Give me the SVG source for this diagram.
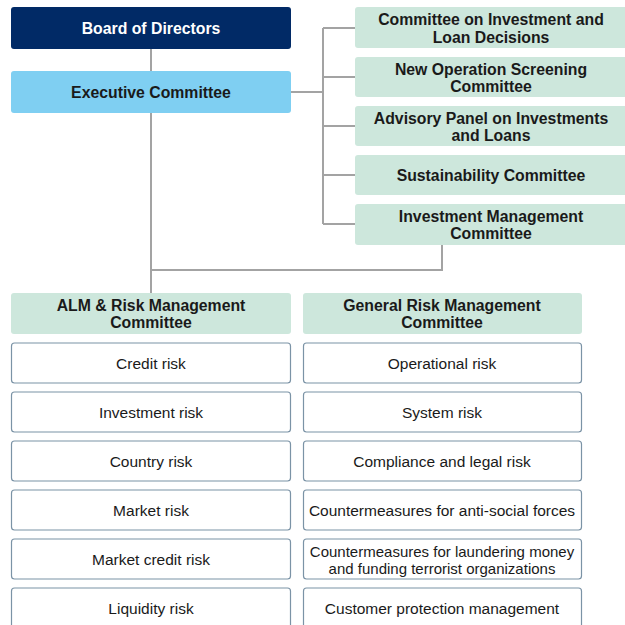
<svg xmlns="http://www.w3.org/2000/svg" width="625" height="625" viewBox="0 0 625 625">
<style>
text{font-family:"Liberation Sans",Arial,sans-serif;font-size:15.5px;text-anchor:middle;fill:#1a1a1a}
.b{font-weight:bold;font-size:15.8px}
.s{font-size:15px}
.w{fill:#ffffff}
.g{fill:#cde7dc}
.r{fill:#ffffff;stroke:#7b93a6;stroke-width:1.2}
.c{fill:none;stroke:#a3a3a3;stroke-width:2}
</style>
<rect width="625" height="625" fill="#ffffff"/>
<g id="connectors">
<path class="c" d="M151 49V71M151 113V293M151 270H442V245M291 92H323M323 28V224M323 28H355M323 77H355M323 126H355M323 175H355M323 224H355"/>
</g>
<g id="board"><rect x="11" y="7" width="280" height="42" rx="3" fill="#012a66"/><text class="b w" x="151" y="34">Board of Directors</text></g>
<g id="exec"><rect x="11" y="71" width="280" height="42" rx="3" fill="#7fcff2"/><text class="b" x="151" y="98">Executive Committee</text></g>
<g id="c1"><rect class="g" x="355" y="7" width="275" height="41" rx="3"/><text class="b" x="491" y="25">Committee on Investment and</text><text class="b" x="491" y="43">Loan Decisions</text></g>
<g id="c2"><rect class="g" x="355" y="57" width="275" height="40" rx="3"/><text class="b" x="491" y="75">New Operation Screening</text><text class="b" x="491" y="92">Committee</text></g>
<g id="c3"><rect class="g" x="355" y="106" width="275" height="40" rx="3"/><text class="b" x="491" y="124">Advisory Panel on Investments</text><text class="b" x="491" y="141">and Loans</text></g>
<g id="c4"><rect class="g" x="355" y="155" width="275" height="40" rx="3"/><text class="b" x="491" y="181">Sustainability Committee</text></g>
<g id="c5"><rect class="g" x="355" y="204" width="275" height="41" rx="3"/><text class="b" x="491" y="222">Investment Management</text><text class="b" x="491" y="239">Committee</text></g>
<g id="alm"><rect class="g" x="11" y="293" width="280" height="41" rx="3"/><text class="b" x="151" y="311">ALM &amp; Risk Management</text><text class="b" x="151" y="328">Committee</text></g>
<g id="grm"><rect class="g" x="303" y="293" width="279" height="41" rx="3"/><text class="b" x="442" y="311">General Risk Management</text><text class="b" x="442" y="328">Committee</text></g>
<g id="l1"><rect class="r" x="11.5" y="343" width="279" height="40" rx="3"/><text x="151" y="369">Credit risk</text></g>
<g id="l2"><rect class="r" x="11.5" y="392" width="279" height="40" rx="3"/><text x="151" y="418">Investment risk</text></g>
<g id="l3"><rect class="r" x="11.5" y="441" width="279" height="40" rx="3"/><text x="151" y="467">Country risk</text></g>
<g id="l4"><rect class="r" x="11.5" y="490" width="279" height="40" rx="3"/><text x="151" y="516">Market risk</text></g>
<g id="l5"><rect class="r" x="11.5" y="539" width="279" height="40" rx="3"/><text x="151" y="565">Market credit risk</text></g>
<g id="l6"><rect class="r" x="11.5" y="588" width="279" height="40" rx="3"/><text x="151" y="614">Liquidity risk</text></g>
<g id="r1"><rect class="r" x="303.5" y="343" width="278" height="40" rx="3"/><text x="442" y="369">Operational risk</text></g>
<g id="r2"><rect class="r" x="303.5" y="392" width="278" height="40" rx="3"/><text x="442" y="418">System risk</text></g>
<g id="r3"><rect class="r" x="303.5" y="441" width="278" height="40" rx="3"/><text x="442" y="467">Compliance and legal risk</text></g>
<g id="r4"><rect class="r" x="303.5" y="490" width="278" height="40" rx="3"/><text x="442" y="516">Countermeasures for anti-social forces</text></g>
<g id="r5"><rect class="r" x="303.5" y="539" width="278" height="40" rx="3"/><text class="s" x="442" y="557">Countermeasures for laundering money</text><text class="s" x="442" y="574">and funding terrorist organizations</text></g>
<g id="r6"><rect class="r" x="303.5" y="588" width="278" height="40" rx="3"/><text x="442" y="614">Customer protection management</text></g>
</svg>
